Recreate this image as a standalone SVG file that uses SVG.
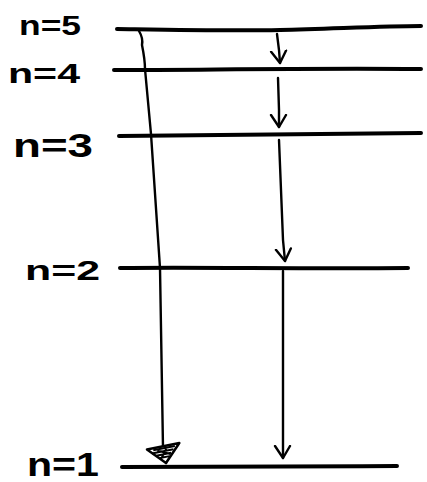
<svg xmlns="http://www.w3.org/2000/svg" width="427" height="482" viewBox="0 0 427 482">
  <style>
    .level { fill: none; stroke: #000; stroke-width: 4; stroke-linecap: round; }
    .lbl { font-family: "Liberation Sans", "DejaVu Sans", sans-serif; font-weight: bold; fill: #000; }
    .arrow { fill: none; stroke: #000; stroke-width: 2.4; stroke-linecap: round; }
  </style>
  <defs>
    <marker id="vhead" markerUnits="userSpaceOnUse" viewBox="-13 -10 15 20" markerWidth="15" markerHeight="20" refX="0" refY="0" orient="auto">
      <path d="M-12,-7 L0,0 L-12,8" fill="none" stroke="#000" stroke-width="2.4" stroke-linecap="round" stroke-linejoin="round"/>
    </marker>
    <marker id="fhead" markerUnits="userSpaceOnUse" viewBox="-20 -19 22 38" markerWidth="22" markerHeight="38" refX="0" refY="0" orient="auto">
      <path d="M0,0 L-17,-17 L-17,16 Z" fill="#fff" stroke="#000" stroke-width="2.5" stroke-linejoin="round"/>
      <path d="M-15,-12 L-15,10 M-12,-10 L-12,12 M-9,-7 L-9,8 M-6,-5 L-6,5 M-14,-3 L-5,4 M-14,6 L-8,-6" fill="none" stroke="#000" stroke-width="2"/>
    </marker>
  </defs>

  <g id="n5">
    <path class="level" d="M117,29 C 180,30 230,31 280,30 C 330,29 380,26 421,26"/>
    <text class="lbl" x="19" y="35" font-size="28" textLength="62" lengthAdjust="spacingAndGlyphs">n=5</text>
  </g>
  <g id="n4">
    <path class="level" d="M114,70 C 200,70 300,68 421,69"/>
    <text class="lbl" x="8" y="83" font-size="28" textLength="72" lengthAdjust="spacingAndGlyphs">n=4</text>
  </g>
  <g id="n3">
    <path class="level" d="M119,136 C 200,135 300,134 421,133"/>
    <text class="lbl" x="13" y="157" font-size="34" textLength="80" lengthAdjust="spacingAndGlyphs">n=3</text>
  </g>
  <g id="n2">
    <path class="level" d="M120,268 C 200,267 300,269 408,268"/>
    <text class="lbl" x="25" y="280" font-size="28" textLength="75" lengthAdjust="spacingAndGlyphs">n=2</text>
  </g>
  <g id="n1">
    <path class="level" d="M122,467 C 200,466 300,467 397,466"/>
    <text class="lbl" x="27" y="476" font-size="34" textLength="72" lengthAdjust="spacingAndGlyphs">n=1</text>
  </g>

  <g id="connectors">
    <path class="arrow" d="M139,31 C 142,36 143,40 142,45 C 144,55 145,62 145,69 L151,134 L160,268 L163,448 L166,463" marker-end="url(#fhead)"/>
    <path class="arrow" d="M277,34 L279,50 L280,63" marker-end="url(#vhead)"/>
    <path class="arrow" d="M278,78 L279,110 L279,127" marker-end="url(#vhead)"/>
    <path class="arrow" d="M279,140 L283,240 L285,261" marker-end="url(#vhead)"/>
    <path class="arrow" d="M283,271 L283,440 L283,458" marker-end="url(#vhead)"/>
  </g>
</svg>
